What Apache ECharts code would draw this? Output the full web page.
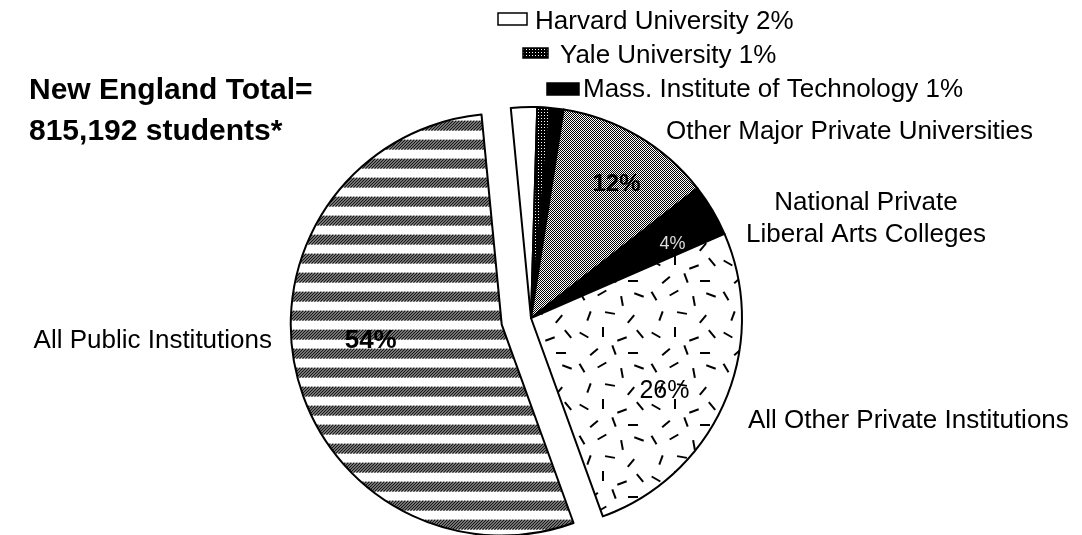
<!DOCTYPE html>
<html>
<head>
<meta charset="utf-8">
<script src="https://cdn.jsdelivr.net/npm/echarts@6/dist/echarts.min.js"></script>
<style>
html,body{margin:0;padding:0;background:#fff;}
#c{width:1082px;height:535px;}
</style>
</head>
<body>
<div id="c"></div>
<script>
// ---- data ----
const categories = ['Harvard University','Yale University','Mass. Institute of Technology','Other Major Private Universities','National Private\nLiberal Arts Colleges','All Other Private Institutions','All Public Institutions'];
const shares = [2, 1, 1, 12, 4, 26, 54];
const insideLabels = [false, false, false, true, true, true, true];
const titleLines = ['New England Total=', '815,192 students*'];

// ---- patterns ----
function tile(w, h, draw) {
  const c = document.createElement('canvas');
  c.width = w; c.height = h;
  const ctx = c.getContext('2d');
  ctx.fillStyle = '#fff'; ctx.fillRect(0, 0, w, h);
  ctx.fillStyle = '#000'; ctx.strokeStyle = '#000';
  draw(ctx);
  return c;
}
const stripes = tile(3, 19, ctx => {
  for (let y = 0; y < 10; y++) for (let x = 0; x < 3; x++) if ((x + y) % 3 !== 0) ctx.fillRect(x, y, 1, 1);
});
const stipple = tile(2, 2, ctx => { ctx.fillRect(0, 0, 1, 1); ctx.fillRect(1, 1, 1, 1); });
const dense = tile(3, 3, ctx => { ctx.fillRect(0, 0, 3, 3); ctx.fillStyle = '#fff'; ctx.fillRect(1, 1, 1, 1); });
const dashSpec = [[6,8,60],[26,5,-30],[46,13,80],[63,7,20],[13,28,-70],[34,25,10],[55,31,-50],[8,47,30],[27,44,90],[46,51,-20],[64,46,50],[18,64,-40],[38,62,70],[57,65,0]];
const dashes = tile(72, 72, ctx => {
  ctx.lineWidth = 2;
  dashSpec.forEach(([x, y, a]) => {
    const r = a * Math.PI / 180, l = 5;
    ctx.beginPath();
    ctx.moveTo(x - Math.cos(r) * l, y - Math.sin(r) * l);
    ctx.lineTo(x + Math.cos(r) * l, y + Math.sin(r) * l);
    ctx.stroke();
  });
});
const fills = [
  '#ffffff',
  {image: dense, repeat: 'repeat'},
  '#000000',
  {image: stipple, repeat: 'repeat'},
  '#000000',
  {image: dashes, repeat: 'repeat'},
  {image: stripes, repeat: 'repeat'}
];
const labelStyles = [
  {}, {}, {},
  {color: '#000', fontSize: 24, fontWeight: 'bold'},
  {color: '#ddd', fontSize: 18},
  {color: '#000', fontSize: 25},
  {color: '#000', fontSize: 26, fontWeight: 'bold'}
];
const labelShift = [[0, 0], [0, 0], [0, 0], [9, -4], [12, 3], [-5, 14], [16, -17]];

const FONT = '"Liberation Sans", Arial, Helvetica, sans-serif';
const CENTER = [531, 318];
const R = 211;
const START = 95.5;

const mainData = categories.map((n, i) => ({
  name: n, value: shares[i], selected: i === 6,
  itemStyle: {color: fills[i]}
}));
const labelData = categories.map((n, i) => ({
  name: n, value: shares[i], selected: i === 6,
  label: Object.assign({show: insideLabels[i], fontFamily: FONT}, labelStyles[i])
}));

// ---- graphic texts ----
const txt = (t, x, y, extra) => ({
  type: 'text', x: x, y: y,
  style: Object.assign({text: t, font: '26px ' + FONT, fill: '#000', textVerticalAlign: 'middle', verticalAlign: 'middle', textAlign: 'left', align: 'left'}, extra || {})
});
const graphics = [];
titleLines.forEach((t, i) => graphics.push(txt(t, 29, 91 + i * 41, {font: 'bold 30px ' + FONT})));
// legend rows for the three small slices: box x,y,w,h, text x, text y
const legendPos = [[498, 13, 29, 12, 535, 22], [523, 48, 25, 10, 560, 56], [547, 83, 32, 12, 583, 90]];
legendPos.forEach((p, i) => {
  graphics.push({type: 'rect', shape: {x: p[0], y: p[1], width: p[2], height: p[3]},
    style: {fill: fills[i].image ? {image: fills[i].image, repeat: 'repeat'} : fills[i], stroke: '#000', lineWidth: 1.5}});
  graphics.push(txt(categories[i] + ' ' + shares[i] + '%', p[4], p[5]));
});
graphics.push(txt(categories[3], 666, 132));
const natLines = categories[4].split('\n');
graphics.push(txt(natLines[0], 866, 203, {textAlign: 'center', align: 'center'}));
graphics.push(txt(natLines[1], 866, 235, {textAlign: 'center', align: 'center'}));
graphics.push(txt(categories[5], 748, 421));
graphics.push(txt(categories[6], 272, 341, {textAlign: 'right', align: 'right'}));

const chart = echarts.init(document.getElementById('c'), null, {renderer: 'canvas'});
chart.setOption({
  animation: false,
  backgroundColor: '#fff',
  graphic: graphics,
  series: [
    {
      type: 'pie', center: CENTER, radius: [0, R], startAngle: START, clockwise: true,
      selectedMode: 'single', selectedOffset: 30, avoidLabelOverlap: false,
      label: {show: false}, labelLine: {show: false},
      itemStyle: {borderColor: '#000', borderWidth: 2},
      emphasis: {disabled: true}, silent: true,
      data: mainData
    },
    {
      type: 'pie', center: CENTER, radius: [0, R * 1.4], startAngle: START, clockwise: true,
      selectedMode: 'single', selectedOffset: 30, avoidLabelOverlap: false, silent: true,
      itemStyle: {color: 'rgba(0,0,0,0)', borderWidth: 0},
      label: {position: 'inside', formatter: '{c}%'}, labelLine: {show: false},
      labelLayout: p => ({dx: labelShift[p.dataIndex][0], dy: labelShift[p.dataIndex][1]}),
      emphasis: {disabled: true}, z: 5,
      data: labelData
    }
  ]
});
</script>
</body>
</html>
